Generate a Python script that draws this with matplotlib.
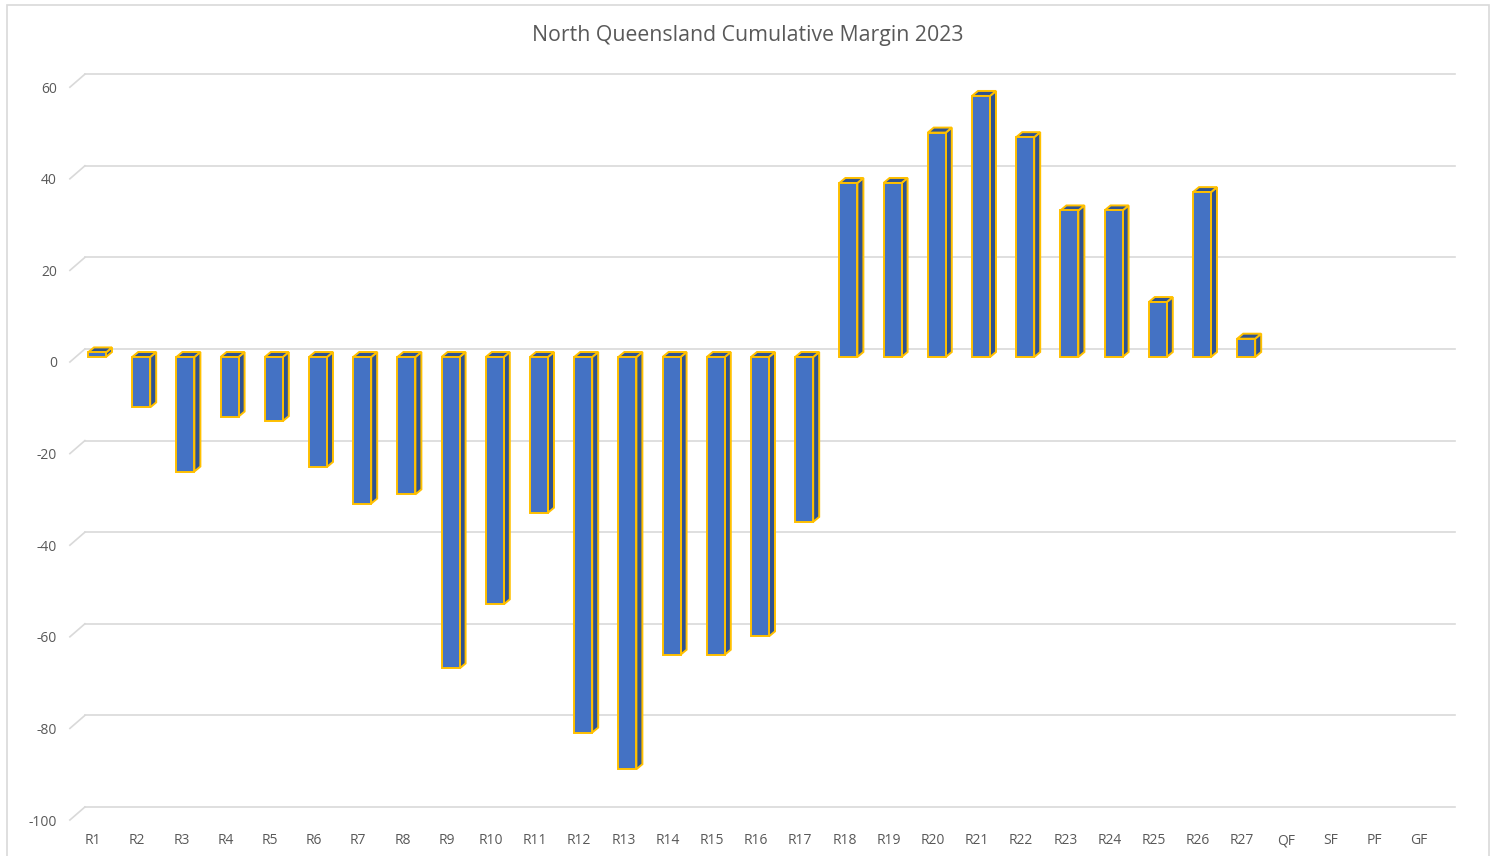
import matplotlib.pyplot as plt
from matplotlib.patches import Polygon, Rectangle
import numpy as np

# chart data
rounds = ['R1', 'R2', 'R3', 'R4', 'R5', 'R6', 'R7', 'R8', 'R9', 'R10',
          'R11', 'R12', 'R13', 'R14', 'R15', 'R16', 'R17', 'R18', 'R19', 'R20',
          'R21', 'R22', 'R23', 'R24', 'R25', 'R26', 'R27', 'QF', 'SF', 'PF', 'GF']
margin = [1, -11, -25, -13, -14, -24, -32, -30, -68, -54,
          -34, -82, -90, -65, -65, -61, -36, 38, 38, 49,
          57, 48, 32, 32, 12, 36, 4, None, None, None, None]
yticks = [60, 40, 20, 0, -20, -40, -60, -80, -100]
title = 'North Queensland Cumulative Margin 2023'

FRONT = '#4472C4'
DARK = '#2F528F'
EDGE = '#FFC000'
GRID = '#D9D9D9'
TEXT = '#595959'

plt.rcParams['font.family'] = ['Open Sans', 'DejaVu Sans']

W, H, DPI = 1495, 856, 100
step_px, unit_px = 44.2, 4.58      # pixels per category / per value unit
x0_px, zero_px = 97, 357           # pixel of first bar centre / of value 0

fig = plt.figure(figsize=(W / DPI, H / DPI), dpi=DPI)
ax = fig.add_axes([0, 0, 1, 1])
ax.set_xlim(-x0_px / step_px, (W - x0_px) / step_px)
ax.set_ylim((zero_px - H) / unit_px, zero_px / unit_px)
ax.axis('off')


def off(px_x, px_y):
    # pixel offset -> data offset (y positive = up)
    return px_x / step_px, px_y / unit_px


n = len(rounds)
left, right = -0.5, n - 0.5
bx, by = off(10, 8)     # back wall relative to bar plane
fx, fy = off(-5, -5)    # front edge relative to bar plane

# back wall gridlines + left wall diagonals + y labels
lx, lly = off(-13, -2)
for v in yticks:
    ax.plot([left + bx, right + bx], [v + by, v + by], color=GRID, lw=1.2, zorder=1)
    ax.plot([left + fx, left + bx], [v + fy, v + by], color=GRID, lw=1.2, zorder=1)
    ax.text(left + fx + lx, v + fy + lly, str(v), ha='right', va='center',
            fontsize=10, color=TEXT)

# category labels
_, ly = off(0, -21)
sx, _ = off(-4, 0)
for i, r in enumerate(rounds):
    ax.text(i + sx, yticks[-1] + fy + ly, r, ha='center', va='center',
            fontsize=10, color=TEXT)

# 3d-look columns
w = 18 / step_px
dx, dy = off(6, 5)
xs = np.arange(n)
vals = np.array([np.nan if m is None else m for m in margin], dtype=float)
ok = ~np.isnan(vals)
for x, v in zip(xs[ok], vals[ok]):
    top = max(v, 0)
    side = [(x + w / 2, 0), (x + w / 2, v), (x + w / 2 + dx, v + dy), (x + w / 2 + dx, dy)]
    lid = [(x - w / 2, top), (x + w / 2, top), (x + w / 2 + dx, top + dy), (x - w / 2 + dx, top + dy)]
    ax.add_patch(Polygon(side, closed=True, fc=DARK, ec=EDGE, lw=1.4, zorder=3))
    ax.add_patch(Polygon(lid, closed=True, fc=DARK, ec=EDGE, lw=1.4, zorder=3))
ax.bar(xs[ok], vals[ok], width=w, color=FRONT, edgecolor=EDGE, linewidth=1.4, zorder=4)

# title and chart border
fig.text(0.5, 1 - 36 / H, title, ha='center', va='center', fontsize=15.3, color=TEXT)
fig.add_artist(Rectangle((7 / W, -0.01), (1489 - 7) / W, 1.01 - 5 / H,
                         transform=fig.transFigure, fill=False, ec=GRID, lw=1.2))

fig.savefig('out.png', dpi=DPI)
